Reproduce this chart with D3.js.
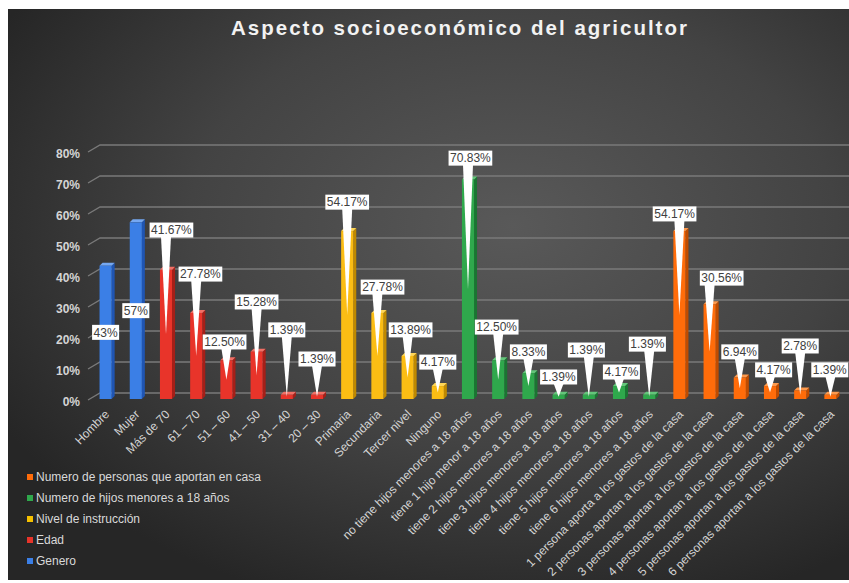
<!DOCTYPE html>
<html><head><meta charset="utf-8">
<script src="https://cdn.jsdelivr.net/npm/d3@7/dist/d3.min.js"></script>
<style>
html,body{margin:0;padding:0;background:#fff;}
svg{display:block;font-family:"Liberation Sans",Arial,sans-serif;}
</style></head>
<body><svg id="chart" width="849" height="583"></svg>
<script>
// ---- data ----
const title = "Aspecto socioeconómico del agricultor";
const seriesNames = ["Genero","Edad","Nivel de instrucción","Numero de hijos menores a 18 años","Numero de personas que aportan en casa"];
const generoCats = ["Hombre","Mujer"];
const generoVals = [43, 57];
const edadCats = ["Más de 70","61 – 70","51 – 60","41 – 50","31 – 40","20 – 30"];
const edadVals = [41.67, 27.78, 12.50, 15.28, 1.39, 1.39];
const nivelCats = ["Primaria","Secundaria","Tercer nivel","Ninguno"];
const nivelVals = [54.17, 27.78, 13.89, 4.17];
const hijosCats = ["no tiene hijos menores a 18 años","tiene 1 hijo menor a 18 años","tiene 2 hijos menores a 18 años","tiene 3 hijos menores a 18 años","tiene 4 hijos menores a 18 años","tiene 5 hijos menores a 18 años","tiene 6 hijos menores a 18 años"];
const hijosVals = [70.83, 12.50, 8.33, 1.39, 1.39, 4.17, 1.39];
const personasCats = ["1 persona aporta a los gastos de la casa","2 personas aportan a los gastos de la casa","3 personas aportan a los gastos de la casa","4 personas aportan a los gastos de la casa","5 personas aportan a los gastos de la casa","6 personas aportan a los gastos de la casa"];
const personasVals = [54.17, 30.56, 6.94, 4.17, 2.78, 1.39];
const labelTexts = ["43%","57%","41.67%","27.78%","12.50%","15.28%","1.39%","1.39%","54.17%","27.78%","13.89%","4.17%","70.83%","12.50%","8.33%","1.39%","1.39%","4.17%","1.39%","54.17%","30.56%","6.94%","4.17%","2.78%","1.39%"];
const yTicks = [0, 10, 20, 30, 40, 50, 60, 70, 80];
// callout placement (annotation: shift in category steps, level in %); null = centred in bar
const calloutShift = [null,null,0.18,0.14,-0.06,0,0,0,0,0.17,0.1,0,0.08,-0.05,0,0,-0.08,0.08,-0.06,-0.16,0.4,0,0.12,0,-0.02];
const calloutLevel = [null,null,54.5,40.3,18.4,31.3,22.3,12.9,63.5,36.1,22.3,11.9,77.7,23.2,15.2,7.1,15.8,8.7,17.7,59.7,39,15.2,9.4,17.1,9.4];

// ---- styles ----
const palette = {
  "Genero": {front:"#3b7fe6", side:"#1f55b3", top:"#75a8f2", key:"#3b7fe6"},
  "Edad": {front:"#e8342a", side:"#a51f18", top:"#f27066", key:"#e8342a"},
  "Nivel de instrucción": {front:"#fbbd14", side:"#bf8900", top:"#ffd657", key:"#f5c000"},
  "Numero de hijos menores a 18 años": {front:"#2fa84c", side:"#1a7532", top:"#63c77a", key:"#2fa84c"},
  "Numero de personas que aportan en casa": {front:"#ff6c0a", side:"#c04c00", top:"#ff9a4d", key:"#ff6c0a"}
};

const groups = [
  [seriesNames[0], generoCats, generoVals],
  [seriesNames[1], edadCats, edadVals],
  [seriesNames[2], nivelCats, nivelVals],
  [seriesNames[3], hijosCats, hijosVals],
  [seriesNames[4], personasCats, personasVals]
];
const rows = [];
groups.forEach(([s, cats, vals]) => cats.forEach((c, j) => rows.push({series:s, cat:c, value:vals[j]})));
rows.forEach((r, i) => { r.label = labelTexts[i]; r.shift = calloutShift[i]; r.level = calloutLevel[i]; });

const svg = d3.select("#chart");
const defs = svg.append("defs");
const bg = defs.append("radialGradient").attr("id","bg")
  .attr("cx","0.6").attr("cy","0.38").attr("r","0.7");
bg.append("stop").attr("offset","0").attr("stop-color","#595959");
bg.append("stop").attr("offset","0.55").attr("stop-color","#434343");
bg.append("stop").attr("offset","1").attr("stop-color","#262626");

svg.append("rect").attr("x",8).attr("y",9).attr("width",841).attr("height",571).attr("fill","url(#bg)");

svg.append("text").attr("x",460).attr("y",35).attr("text-anchor","middle")
  .attr("fill","#f2f2f2").attr("font-size",20.5).attr("font-weight","bold")
  .attr("letter-spacing","2px").text(title);

const x = d3.scaleBand().domain(rows.map(d => d.cat)).range([92, 847]).paddingInner(0.5).paddingOuter(0.25);
const y = d3.scaleLinear().domain([0, 80]).range([399, 151]);
const depthX = 12, depthY = -7;

// gridlines (3D wall + floor edge)
const grid = svg.append("g");
yTicks.forEach(t => {
  const yf = y(t) + 1;
  grid.append("path")
    .attr("d", `M88,${yf} L${88+depthX},${yf+depthY} L849,${yf+depthY}`)
    .attr("fill","none").attr("stroke","#7a7a7a").attr("stroke-width",1.3);
});

// y axis labels
const yAxis = d3.axisLeft(y).tickValues(yTicks).tickFormat(d => d + "%").tickSize(0).tickPadding(0);
const yg = svg.append("g").attr("transform","translate(80,3)").call(yAxis);
yg.select(".domain").remove();
yg.selectAll("text").attr("fill","#d4d4d4").attr("font-size",12).attr("font-weight","bold")
  .attr("font-family","'Liberation Sans',Arial,sans-serif");

// bars
const bw = x.bandwidth();
const fw = bw - 3, dd = 3;
const bars = svg.append("g");
rows.forEach(d => {
  const c = palette[d.series];
  const x0 = x(d.cat), y0 = y(0), yt = y(d.value);
  bars.append("path").attr("d", `M${x0+fw},${yt} L${x0+fw+dd},${yt-dd} L${x0+fw+dd},${y0-dd} L${x0+fw},${y0} Z`).attr("fill", c.side);
  bars.append("path").attr("d", `M${x0},${yt} L${x0+dd},${yt-dd} L${x0+fw+dd},${yt-dd} L${x0+fw},${yt} Z`).attr("fill", c.top);
  bars.append("rect").attr("x", x0).attr("y", yt).attr("width", fw).attr("height", y0 - yt).attr("fill", c.front);
});

// x labels
const xl = svg.append("g");
rows.forEach(d => {
  const cx = x(d.cat) + bw / 2;
  xl.append("text").attr("transform", `translate(${cx},${412}) rotate(-45)`)
    .attr("text-anchor","end").attr("dy","0.35em")
    .attr("fill","#d4d4d4").attr("font-size",12).text(d.cat);
});

// data labels / callouts
const lab = svg.append("g");
rows.forEach(d => {
  const cx = x(d.cat) + fw / 2;
  let lx, ly, callout = true;
  if (d.shift === null) { lx = cx; ly = y(d.value / 2); callout = false; }
  else { lx = cx + d.shift * x.step(); ly = y(d.level); }
  const t = lab.append("text").attr("x", lx).attr("y", ly).attr("dy","0.35em")
    .attr("text-anchor","middle").attr("fill","#404040").attr("font-size",12).text(d.label);
  const w = t.node().getComputedTextLength() + 3, h = 15;
  if (callout) {
    const tipX = cx, tipY = y(d.value / 2);
    const bx = Math.max(lx - w/2 + 5, Math.min(lx + w/2 - 5, tipX));
    lab.insert("path", "text").attr("d", `M${bx-5},${ly+h/2-1} L${tipX},${tipY} L${bx+5},${ly+h/2-1} Z`).attr("fill","#fff");
  }
  lab.insert("rect", "text").attr("x", lx - w/2).attr("y", ly - h/2).attr("width", w).attr("height", h).attr("fill","#fff");
});

// legend
const legendOrder = seriesNames.slice().reverse();
const lg = svg.append("g");
legendOrder.forEach((s, i) => {
  const yy = 477 + i * 21;
  lg.append("rect").attr("x",27).attr("y",yy-3).attr("width",6).attr("height",6).attr("fill",palette[s].key);
  lg.append("text").attr("x",36).attr("y",yy).attr("dy","0.35em").attr("fill","#d9d9d9").attr("font-size",12).text(s);
});
</script>
</body></html>
